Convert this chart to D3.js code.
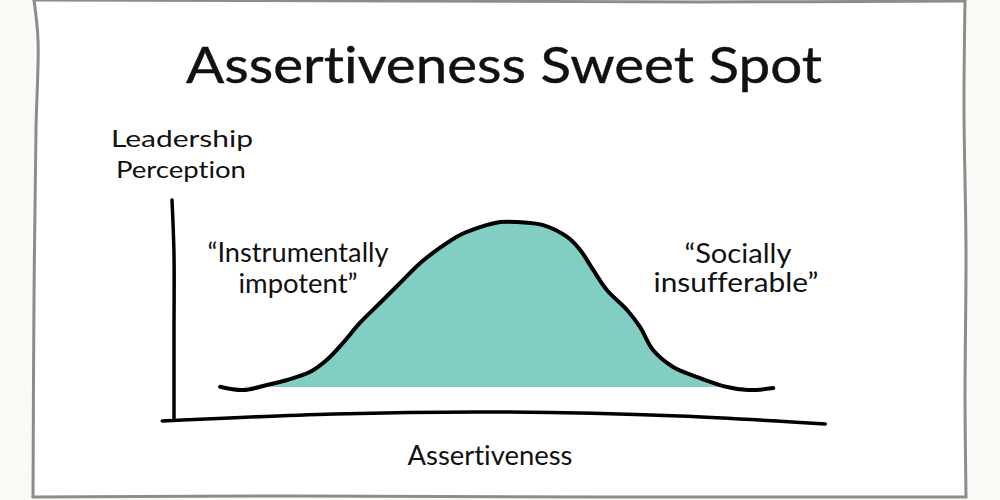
<!DOCTYPE html>
<html>
<head>
<meta charset="utf-8">
<script src="https://cdn.jsdelivr.net/npm/d3@7/dist/d3.min.js"></script>
<style>
  html, body { margin: 0; padding: 0; background: #faf9f5; }
  svg { display: block; }
  text { font-family: "Lato", "Open Sans", sans-serif; fill: #111; font-variant-ligatures: none; }
</style>
</head>
<body>
<svg id="chart" width="1000" height="500"></svg>
<script>
// ---- data ----
const title = "Assertiveness Sweet Spot";
const xLabel = "Assertiveness";
const yLabel = ["Leadership", "Perception"];
const leftNote = ["\u201CInstrumentally", "impotent\u201D"];
const rightNote = ["\u201CSocially", "insufferable\u201D"];

// assertiveness (0-100) and perceived leadership (0-100)
const assertiveness = [7.4, 10.9, 14.6, 17.7, 21.2, 23.8, 26.3, 28.9, 32.0, 35.1, 38.2, 41.2, 44.3, 47.4, 50.5, 53.1, 57.1, 60.8, 62.8, 64.8, 66.9, 70.0, 72.0, 74.0, 77.1, 81.2, 85.4, 88.6, 92.5];
const perception    = [15.1, 13.6, 15.9, 18.2, 21.8, 27.3, 35.0, 44.1, 53.2, 62.3, 71.4, 78.2, 84.1, 87.7, 90.0, 90.0, 88.6, 83.2, 77.3, 68.2, 59.1, 50.0, 42.3, 31.8, 24.1, 19.1, 15.0, 13.6, 14.5];
const fillBase = 15.0;

const data = assertiveness.map((a, i) => ({ x: a, y: perception[i] }));

// ---- layout ----
const svg = d3.select("#chart");
const x = d3.scaleLinear().domain([0, 100]).range([172, 822]);
const y = d3.scaleLinear().domain([0, 100]).range([420, 200]);

// card
svg.append("rect").attr("x", 35).attr("y", 1).attr("width", 931).attr("height", 496).attr("fill", "#fff");
const side = d3.line().curve(d3.curveCatmullRom);
const sides = [
  [[34, 0], [38, 40], [36, 130], [34, 300], [33, 497]],
  [[33, 497], [300, 496], [600, 497], [966, 497]],
  [[966, 497], [965, 400], [966, 250], [964, 110], [965, 1]],
  [[965, 1], [700, 2], [400, 1], [34, 0]]
];
sides.forEach(s => svg.append("path").attr("d", side(s))
  .attr("fill", "none").attr("stroke", "#8c8c8c").attr("stroke-width", 3).attr("stroke-linecap", "round"));

// fill
const area = d3.area()
  .curve(d3.curveCatmullRom.alpha(0.5))
  .x(d => x(d.x))
  .y0(() => y(fillBase))
  .y1(d => y(Math.max(d.y, fillBase)));
svg.append("path")
  .datum(data)
  .attr("d", area)
  .attr("fill", "#82cec5");

// curve
const line = d3.line()
  .curve(d3.curveCatmullRom.alpha(0.5))
  .x(d => x(d.x))
  .y(d => y(d.y));
svg.append("path")
  .datum(data)
  .attr("d", line)
  .attr("fill", "none")
  .attr("stroke", "#000")
  .attr("stroke-width", 4)
  .attr("stroke-linecap", "round")
  .attr("stroke-linejoin", "round");

// axes (hand drawn)
const axisLine = d3.line().curve(d3.curveCatmullRom);
svg.append("path")
  .attr("d", axisLine([[x(0), y(100)], [x(0) + 2, y(75)], [x(0) + 2, y(40)], [x(0) + 2, y(0) - 2]]))
  .attr("fill", "none").attr("stroke", "#000").attr("stroke-width", 3.5).attr("stroke-linecap", "round");
svg.append("path")
  .attr("d", axisLine([[x(-1.5), y(0) - 1], [x(25), y(0) + 6], [x(50), y(0) + 8], [x(78), y(0) + 4], [x(100.5), y(0) - 4]]
    .map(p => [p[0], 2 * y(0) - p[1]])))
  .attr("fill", "none").attr("stroke", "#000").attr("stroke-width", 3.5).attr("stroke-linecap", "round");

// text
function txt(s, cx, by, size, len) {
  svg.append("text")
    .attr("x", cx).attr("y", by)
    .attr("text-anchor", "middle")
    .attr("font-size", size)
    .attr("textLength", len)
    .attr("lengthAdjust", "spacingAndGlyphs")
    .attr("stroke", "#111").attr("stroke-width", size > 40 ? 0.4 : 0)
    .text(s);
}
txt(title, 504, 83, 50, 636);
txt(yLabel[0], 182, 147, 24, 142);
txt(yLabel[1], 181, 178, 24, 130);
txt(leftNote[0], 298, 262, 26, 181);
txt(leftNote[1], 298, 293, 26, 119);
txt(rightNote[0], 738, 263, 26, 107);
txt(rightNote[1], 736, 292, 26, 165);
txt(xLabel, 490, 465, 26, 165);
</script>
</body>
</html>
